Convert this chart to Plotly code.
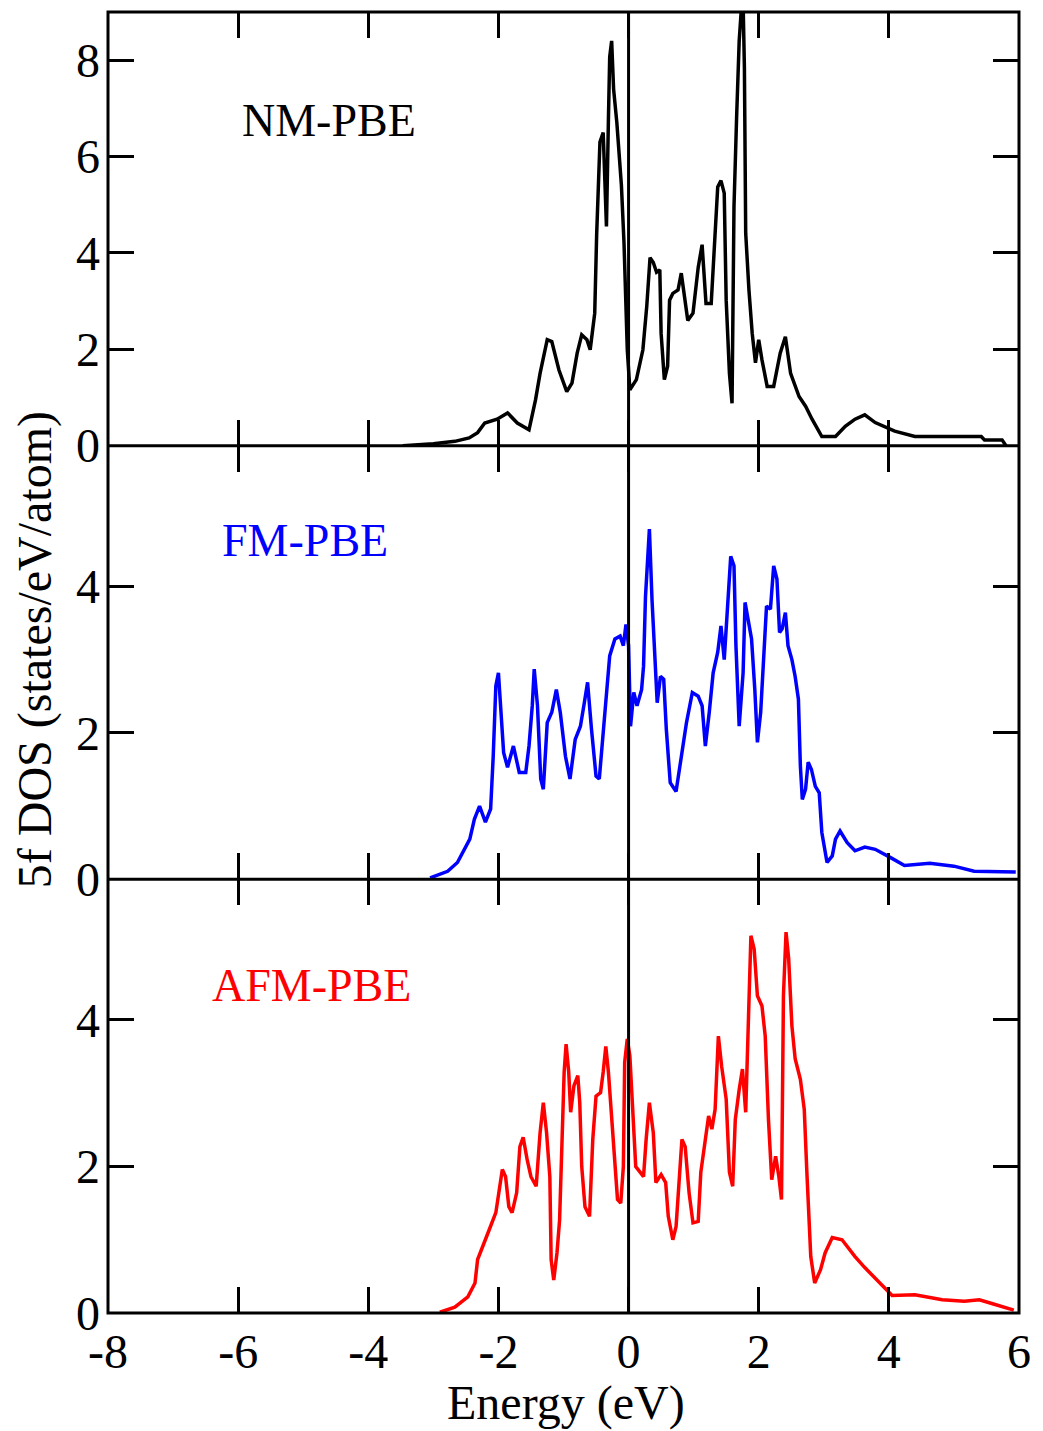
import plotly.graph_objects as go
from plotly.subplots import make_subplots

# ---- NM-PBE (black) ----
nm_e = [-3.47, -3.0, -2.67, -2.45, -2.32, -2.21, -2.02, -1.86, -1.71, -1.53, -1.43, -1.36, -1.25, -1.18,
        -1.07, -0.95, -0.87, -0.79, -0.72, -0.64, -0.59, -0.52, -0.49, -0.46, -0.44, -0.39, -0.36, -0.34,
        -0.31, -0.29, -0.26, -0.23, -0.18, -0.11, -0.07, -0.04, -0.02, 0.02, 0.12, 0.22, 0.28, 0.33, 0.38,
        0.43, 0.48, 0.50, 0.55, 0.60, 0.63, 0.68, 0.76, 0.81, 0.86, 0.91, 0.99, 1.07, 1.13, 1.19, 1.27,
        1.32, 1.37, 1.42, 1.47, 1.50, 1.55, 1.59, 1.62, 1.66, 1.70, 1.74, 1.76, 1.78, 1.80, 1.85, 1.90,
        1.95, 2.00, 2.05, 2.13, 2.23, 2.33, 2.41, 2.49, 2.62, 2.72, 2.82, 2.97, 3.18, 3.33, 3.48, 3.63,
        3.79, 4.09, 4.40, 4.80, 5.42, 5.47, 5.74, 5.80]
nm_v = [0.0, 0.04, 0.09, 0.16, 0.27, 0.47, 0.55, 0.68, 0.47, 0.33, 0.95, 1.5, 2.2, 2.16,
        1.57, 1.12, 1.3, 1.92, 2.3, 2.2, 1.99, 2.75, 4.4, 5.6, 6.3, 6.5, 5.1, 4.55,
        6.75, 8.07, 8.4, 7.4, 6.7, 5.4, 4.2, 2.96, 2.0, 1.16, 1.37, 1.99, 2.9, 3.9, 3.8,
        3.6, 3.65, 2.33, 1.37, 1.65, 3.02, 3.16, 3.23, 3.58, 3.02, 2.6, 2.75, 3.7, 4.17, 2.95, 2.95,
        4.06, 5.37, 5.5, 5.24, 3.02, 1.5, 0.88, 4.96, 6.8, 8.4, 9.2, 9.2, 7.86, 4.41, 3.23, 2.33,
        1.72, 2.2, 1.78, 1.23, 1.23, 1.92, 2.26, 1.5, 1.02, 0.82, 0.55, 0.19, 0.19, 0.4, 0.55, 0.64,
        0.48, 0.3, 0.19, 0.19, 0.19, 0.12, 0.12, 0.0]

# ---- FM-PBE (blue) ----
fm_e = [-3.05, -2.78, -2.63, -2.55, -2.44, -2.37, -2.29, -2.20, -2.12, -2.08, -2.04, -2.00, -1.97, -1.92,
        -1.86, -1.77, -1.68, -1.58, -1.53, -1.48, -1.45, -1.40, -1.35, -1.31, -1.25, -1.18, -1.11, -1.05,
        -0.97, -0.90, -0.82, -0.74, -0.68, -0.63, -0.57, -0.50, -0.45, -0.41, -0.35, -0.29, -0.21, -0.13,
        -0.08, -0.04, 0.00, 0.03, 0.08, 0.13, 0.20, 0.23, 0.26, 0.30, 0.32, 0.36, 0.40, 0.44, 0.49, 0.54,
        0.58, 0.64, 0.73, 0.81, 0.89, 0.98, 1.07, 1.13, 1.18, 1.24, 1.30, 1.37, 1.42, 1.47, 1.53, 1.57,
        1.62, 1.65, 1.70, 1.76, 1.79, 1.84, 1.89, 1.94, 1.98, 2.03, 2.08, 2.12, 2.18, 2.23, 2.28, 2.32,
        2.36, 2.41, 2.45, 2.51, 2.56, 2.61, 2.64, 2.67, 2.72, 2.76, 2.81, 2.87, 2.93, 2.97, 3.05, 3.13,
        3.18, 3.25, 3.36, 3.48, 3.63, 3.79, 4.02, 4.24, 4.63, 5.00, 5.31, 5.95]
fm_v = [0.02, 0.11, 0.23, 0.36, 0.55, 0.82, 1.0, 0.78, 0.96, 1.68, 2.64, 2.82, 2.37, 1.73,
        1.53, 1.82, 1.46, 1.46, 1.82, 2.37, 2.87, 2.37, 1.37, 1.23, 2.14, 2.28, 2.59, 2.28,
        1.68, 1.37, 1.91, 2.09, 2.41, 2.69, 2.05, 1.41, 1.37, 1.82, 2.5, 3.05, 3.28, 3.32,
        3.19, 3.48, 3.19, 2.09, 2.55, 2.37, 2.59, 2.91, 3.86, 4.6, 4.78, 3.82, 3.05, 2.41, 2.77, 2.73,
        2.05, 1.32, 1.2, 1.64, 2.14, 2.55, 2.5, 2.37, 1.82, 2.28, 2.82, 3.1, 3.46, 3.0, 3.78, 4.41,
        4.28, 3.19, 2.09, 2.82, 3.78, 3.55, 3.28, 2.59, 1.87, 2.28, 3.0, 3.73, 3.69, 4.28, 4.1, 3.37,
        3.42, 3.64, 3.19, 3.0, 2.77, 2.46, 1.55, 1.09, 1.23, 1.6, 1.5, 1.27, 1.18, 0.64, 0.23, 0.32,
        0.55, 0.66, 0.5, 0.39, 0.44, 0.41, 0.3, 0.19, 0.22, 0.18, 0.11, 0.1]

# ---- AFM-PBE (red) ----
afm_e = [-2.90, -2.67, -2.47, -2.36, -2.32, -2.24, -2.14, -2.04, -1.99, -1.94, -1.89, -1.84, -1.79, -1.72,
         -1.67, -1.62, -1.56, -1.50, -1.42, -1.36, -1.31, -1.26, -1.21, -1.19, -1.15, -1.10, -1.06, -1.02,
         -0.99, -0.96, -0.92, -0.89, -0.84, -0.78, -0.75, -0.72, -0.67, -0.60, -0.55, -0.50, -0.43, -0.39,
         -0.35, -0.31, -0.26, -0.21, -0.17, -0.12, -0.08, -0.06, -0.02, 0.02, 0.06, 0.11, 0.18, 0.23, 0.27,
         0.32, 0.38, 0.42, 0.50, 0.57, 0.61, 0.68, 0.73, 0.78, 0.82, 0.87, 0.93, 0.99, 1.07, 1.11, 1.18,
         1.23, 1.28, 1.33, 1.38, 1.43, 1.50, 1.55, 1.60, 1.64, 1.70, 1.75, 1.80, 1.85, 1.88, 1.93, 1.98,
         2.05, 2.10, 2.15, 2.20, 2.26, 2.31, 2.35, 2.38, 2.42, 2.46, 2.51, 2.56, 2.64, 2.70, 2.74, 2.77,
         2.80, 2.86, 2.95, 3.02, 3.13, 3.28, 3.48, 3.63, 3.79, 4.05, 4.40, 4.82, 5.16, 5.39, 5.62, 5.92]
afm_v = [0.01, 0.08, 0.22, 0.41, 0.73, 0.9, 1.14, 1.37, 1.64, 1.96, 1.86, 1.45, 1.37, 1.64,
         2.27, 2.4, 2.1, 1.86, 1.73, 2.46, 2.87, 2.46, 1.86, 0.73, 0.45, 0.82, 1.27, 2.55,
         3.29, 3.67, 3.29, 2.74, 3.1, 3.24, 2.87, 2.0, 1.45, 1.32, 2.37, 2.96, 3.01, 3.29,
         3.64, 3.29, 2.69, 2.05, 1.55, 1.5, 2.0, 3.42, 3.74, 3.51, 2.78, 2.0, 1.92, 1.86, 2.37,
         2.87, 2.46, 1.78, 1.89, 1.78, 1.32, 1.0, 1.18, 1.92, 2.37, 2.27, 1.64, 1.23, 1.25, 1.92, 2.37,
         2.69, 2.51, 2.78, 3.78, 3.37, 2.92, 1.92, 1.73, 2.64, 3.05, 3.33, 2.74, 4.06, 5.15, 4.97, 4.33,
         4.19, 3.78, 2.64, 1.82, 2.14, 1.86, 1.55, 4.33, 5.2, 4.84, 3.92, 3.47, 3.19, 2.78, 1.92, 1.27,
         0.77, 0.41, 0.59, 0.82, 1.03, 1.0, 0.77, 0.62, 0.48, 0.24, 0.25, 0.18, 0.16, 0.18, 0.12, 0.04]

labels = ["NM-PBE", "FM-PBE", "AFM-PBE"]
colors = ["black", "blue", "red"]

FONT = "Liberation Serif"

fig = make_subplots(rows=3, cols=1, shared_xaxes=True, vertical_spacing=0)

for i, (e, v) in enumerate([(nm_e, nm_v), (fm_e, fm_v), (afm_e, afm_v)]):
    fig.add_trace(go.Scatter(x=e, y=v, mode="lines", line=dict(color=colors[i], width=3.5),
                             showlegend=False, cliponaxis=True), row=i + 1, col=1)

axis_common = dict(showline=False, mirror="ticks",
                   ticks="inside", ticklen=26, tickwidth=3, tickcolor="black",
                   showgrid=False, zeroline=False,
                   tickfont=dict(family=FONT, size=48, color="black"))

for r in range(1, 4):
    fig.update_xaxes(range=[-8, 6], tickmode="array", tickvals=[-8, -6, -4, -2, 0, 2, 4, 6],
                     ticktext=["-8", "-6", "-4", "-2", "0", "2", "4", "6"], row=r, col=1, **axis_common)
fig.update_xaxes(showticklabels=True, ticklabelstandoff=6, row=3, col=1)

fig.update_yaxes(range=[0, 9], tickvals=[0, 2, 4, 6, 8], ticklabelstandoff=7, row=1, col=1, **axis_common)
fig.update_yaxes(range=[0, 5.92], tickvals=[0, 2, 4], ticklabelstandoff=7, row=2, col=1, **axis_common)
fig.update_yaxes(range=[0, 5.92], tickvals=[0, 2, 4], ticklabelstandoff=7, row=3, col=1, **axis_common)

# frame and panel separators
fig.add_shape(type="rect", xref="paper", yref="paper", x0=0, x1=1, y0=0, y1=1,
              line=dict(color="black", width=3), layer="above")
for yb in (1 / 3, 2 / 3):
    fig.add_shape(type="line", xref="paper", yref="paper", x0=0, x1=1, y0=yb, y1=yb,
                  line=dict(color="black", width=3), layer="above")

# vertical zero line across all panels
fig.add_shape(type="line", xref="x3", yref="paper", x0=0, x1=0, y0=0, y1=1,
              line=dict(color="black", width=3), layer="above")

# panel labels
ann_pos = [(330, 120), (306, 540), (312, 985)]
W, H = 1043, 1431
L, R, T, B = 108, 21, 12, 118
pw, ph = W - L - R, H - T - B
for (px, py), lab, col in zip(ann_pos, labels, colors):
    fig.add_annotation(x=(px - L) / pw, y=1 - (py - T) / ph, xref="paper", yref="paper",
                       text=lab, showarrow=False, xanchor="center", yanchor="middle",
                       font=dict(family=FONT, size=46, color=col))

fig.add_annotation(x=(568 - L) / pw, y=1 - (1403 - T) / ph, xref="paper", yref="paper",
                   text="Energy (eV)", showarrow=False, xanchor="center", yanchor="middle",
                   font=dict(family=FONT, size=48, color="black"))
fig.add_annotation(x=(35 - L) / pw, y=1 - (650 - T) / ph, xref="paper", yref="paper",
                   text="5f DOS (states/eV/atom)", showarrow=False, textangle=-90,
                   xanchor="center", yanchor="middle",
                   font=dict(family=FONT, size=48, color="black"))

fig.update_layout(width=W, height=H, margin=dict(l=L, r=R, t=T, b=B),
                  paper_bgcolor="white", plot_bgcolor="white",
                  font=dict(family=FONT, color="black"))

fig.write_html("out.html")
